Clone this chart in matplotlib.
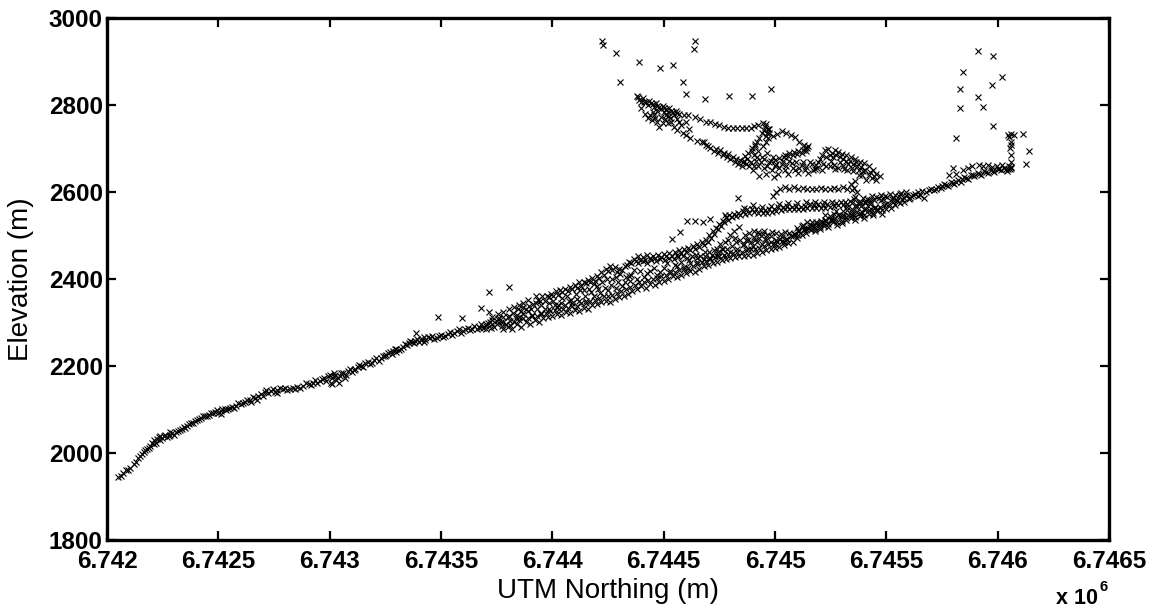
import matplotlib
matplotlib.use("Agg")
import matplotlib.pyplot as plt

plt.rcParams['font.family'] = ['Liberation Sans', 'DejaVu Sans']

NORTH_BASE = 6742000
X_TICKS = [6742000, 6742500, 6743000, 6743500, 6744000, 6744500, 6745000, 6745500, 6746000, 6746500]
X_LABELS = ['6.742', '6.7425', '6.743', '6.7435', '6.744', '6.7445', '6.745', '6.7455', '6.746', '6.7465']
Y_TICKS = [1800, 2000, 2200, 2400, 2600, 2800, 3000]

# (metres north of NORTH_BASE, elevation in metres)
outliers = [(2221,2948),(2227,2937),(2284,2920),(2389,2899),(2483,2886),(2540,2892),(2640,2948),(2634,2929),
            (2303,2854),(2586,2854),(2600,2826),(2686,2813),(2794,2820),(2896,2820),(2983,2837),
            (3912,2923),(3981,2913),(3845,2875),(4021,2864),(3974,2847),(3831,2837),(3912,2819),(3933,2795),
            (3831,2792),(3981,2751),(3812,2723),(4116,2733),(4142,2695),(4127,2665),(4074,2730),(4046,2732),(4058,2734),
            (4058,2716),(4055,2700),(4058,2685),(4060,2670),(4060,2658),(4050,2726),(4062,2708),
            (1486,2313),(1387,2276),(1423,2267),(1594,2310),(1717,2371),(1805,2381),(1717,2323),(1679,2333),
            (2835,2586),(2538,2492),(2573,2509),(2606,2534),(2640,2534),(2677,2531),(2707,2537),(2775,2547)]

main_track = [(50,1945),(62,1948),(85,1960),(105,1966),(120,1975),(140,1988),(150,1992),(165,2002),(180,2010),(195,2016),
 (210,2020),(225,2032),(240,2030),(255,2038),(270,2036),(285,2042),(300,2042),(318,2050),(335,2055),(352,2058),
 (370,2066),(388,2070),(405,2076),(422,2080),(440,2086),(458,2088),(475,2092),(492,2098),(510,2096),(528,2102),
 (545,2100),(560,2106),(580,2108),(600,2112),(620,2118),(640,2122),(655,2128),(672,2122),(690,2135),(708,2140),
 (725,2138),(745,2146),(765,2144),(790,2146),(810,2144),(835,2150),(855,2152),(880,2155),(905,2158),(925,2162),
 (945,2160),(965,2170),(985,2165),(1000,2180),(1005,2160),(1010,2172),(1018,2185),(1030,2168),(1045,2178),(1060,2185),
 (1075,2180),(1090,2194),(1108,2190),(1125,2198),(1140,2200),(1160,2206),(1180,2204),(1200,2214),(1220,2212),(1240,2224),
 (1255,2226),(1270,2232),(1285,2234),(1300,2240),(1320,2238),(1340,2250),(1355,2254),(1370,2256),(1385,2258),(1400,2256),
 (1415,2262),(1430,2260),(1450,2264),(1470,2262),(1490,2270),(1510,2266),(1530,2274),(1550,2272),(1570,2280),(1590,2276),
 (1610,2284),(1630,2282),(1650,2292),(1670,2290),(1690,2288),(1710,2298),(1730,2296),(1750,2304),(1770,2300),(1790,2296),
 (1810,2304),(1300,2232),(1020,2178),(975,2172),(1040,2162),(240,2040),(210,2030),(285,2048),(510,2090),(765,2138)]

main_fill = [(72,1955),(95,1962),(130,1980),(158,1998),(172,2008),(188,2012),(202,2024),(218,2022),(232,2036),(248,2034),
 (262,2042),(278,2040),(292,2046),(308,2048),(326,2052),(344,2060),(360,2062),(378,2068),(396,2074),(414,2078),
 (431,2084),(449,2084),(466,2092),(484,2094),(500,2092),(518,2100),(536,2098),(552,2104),(570,2104),(590,2114),
 (610,2114),(630,2122),(648,2118),(664,2126),(680,2130),(699,2132),(716,2144),(735,2142),(755,2140),(778,2150),
 (800,2150),(822,2146),(845,2148),(868,2150),(892,2160),(915,2156),(935,2168),(955,2165),(992,2176),(1012,2158),
 (1025,2180),(1037,2172),(1052,2184),(1068,2172),(1082,2188),(1099,2186),(1116,2194),(1132,2202),(1150,2198),(1170,2210),
 (1190,2208),(1210,2218),(1230,2218),(1248,2222),(1262,2230),(1278,2228),(1292,2238),(1310,2236),(1330,2244),(1348,2248),
 (1362,2258),(1378,2252),(1392,2262),(1408,2260),(1422,2256),(1440,2266),(1460,2268),(1480,2264),(1500,2272),(1520,2270),
 (1540,2278),(1560,2276),(1580,2284),(1600,2280),(1620,2288),(1640,2286),(1660,2286),(1680,2296),(1700,2292),(1720,2302),
 (1740,2290),(1760,2310),(1780,2286),(1800,2312),(1700,2284),(1725,2288),(1750,2296),(1775,2292)]

band_top = [(1675,2288),(1700,2296),(1730,2305),(1755,2308),(1780,2312),(1805,2316),(1825,2322),(1845,2330),(1870,2335),(1895,2338),
 (1915,2342),(1935,2352),(1955,2360),(1975,2362),(1995,2366),(2015,2372),(2035,2374),(2055,2378),(2080,2382),(2100,2386),
 (2120,2392),(2140,2394),(2160,2398),(2180,2402),(2200,2406),(2220,2416),(2240,2424),(2260,2430),(2280,2428),(2300,2424),
 (2325,2430),(2345,2440),(2365,2446),(2385,2452),(2405,2450),(2425,2456),(2450,2454),(2475,2456),(2500,2458),(2525,2460),
 (2550,2462),(2570,2466),(2590,2470),(2610,2472),(2630,2476),(2650,2480),(2670,2484),(2690,2490),(2705,2500),(2720,2510),
 (2735,2518),(2750,2526),(2765,2534),(2780,2542),(2795,2546),(2815,2550),(2835,2552),(2855,2556),(2875,2560),(2895,2562),
 (2915,2560),(2935,2558),(2955,2558),(2975,2562),(2995,2560),(3015,2565),(3035,2566),(3055,2568),(3075,2566),(3095,2568),
 (3115,2566),(3135,2568),(3155,2572),(3175,2570),(3195,2572),(3215,2570),(3235,2572),(3255,2576),(3275,2574),(3295,2578),
 (3315,2576),(3335,2580),(3355,2584),(3375,2578),(3395,2586),(3415,2584),(3435,2590),(3455,2588),(3475,2594),(3495,2590),
 (3515,2596),(3540,2592),(3565,2598),(3590,2594),(3610,2590)]

top_fill = [(1840,2318),(1860,2326),(1880,2332),(1905,2330),(1925,2344),(1945,2350),(1965,2350),(1985,2358),(2005,2360),(2025,2364),
 (2045,2370),(2070,2372),(2090,2378),(2110,2380),(2130,2384),(2150,2390),(2170,2392),(2190,2396),(2210,2402),(2230,2410),
 (2250,2418),(2270,2420),(2290,2416),(2315,2420),(2335,2432),(2355,2436),(2375,2442),(2395,2444),(2415,2444),(2437,2448),
 (2462,2448),(2487,2450),(2512,2452),(2537,2454),(2560,2456),(2580,2460),(2600,2462),(2620,2466),(2640,2470),(2660,2474),
 (2680,2478),(2698,2484),(2712,2494),(2728,2504),(2742,2516),(2758,2522),(2772,2530),(2788,2536),(2805,2542),(2825,2544),
 (2845,2548),(2865,2550),(2885,2552),(2905,2554),(2925,2552),(2945,2552),(2965,2552),(2985,2554),(3005,2556),(3025,2558),
 (3045,2560),(3065,2560),(3085,2560),(3105,2560),(3125,2560),(3145,2564),(3165,2564),(3185,2564),(3205,2564),(3225,2564),
 (3245,2566),(3265,2568),(3285,2570),(3305,2570),(3325,2572),(3345,2574),(3365,2570),(3385,2578),(3405,2578),(3425,2582),
 (3445,2582),(3465,2586),(3485,2584),(3505,2588),(3530,2586),(3555,2590),(3580,2586),(3605,2586),(3630,2596)]

band_low = [(1800,2290),(1820,2284),(1840,2296),(1860,2290),(1880,2300),(1900,2296),(1920,2305),(1940,2302),(1960,2310),(1980,2312),
 (2000,2316),(2020,2320),(2040,2318),(2060,2324),(2080,2322),(2100,2328),(2120,2326),(2140,2334),(2160,2332),(2180,2340),
 (2200,2342),(2220,2346),(2240,2350),(2260,2348),(2280,2354),(2300,2358),(2320,2362),(2340,2366),(2360,2372),(2380,2376),
 (2400,2384),(2420,2380),(2440,2388),(2460,2386),(2480,2392),(2500,2396),(2520,2400),(2540,2406),(2560,2404),(2580,2410),
 (2600,2414),(2620,2418),(2640,2416),(2660,2424),(2680,2430),(2700,2432),(2720,2436),(2740,2440),(2760,2444),(2780,2446),
 (2800,2448),(2820,2450),(2840,2452),(2860,2452),(2880,2456),(2900,2456),(2920,2460),(2940,2462),(2960,2466),(2980,2468),
 (3000,2472),(3020,2474),(3040,2478),(3060,2482),(3080,2486),(3100,2494),(3120,2500),(3140,2506),(3160,2512),(3180,2516),
 (3200,2520),(3220,2522),(3240,2526),(3260,2530),(3280,2530),(3300,2534),(3320,2536),(3340,2540),(3360,2542),(3380,2544),
 (3400,2546),(3420,2550),(3440,2552),(3460,2556),(3480,2558),(3500,2562),(3520,2564),(3540,2570),(3560,2574),(3580,2578),
 (3600,2584)]

low_fill = [(1830,2302),(1850,2306),(1870,2310),(1890,2310),(1910,2314),(1930,2316),(1950,2320),(1970,2322),(1990,2326),(2010,2328),
 (2030,2330),(2050,2332),(2070,2334),(2090,2338),(2110,2338),(2130,2344),(2150,2344),(2170,2350),(2190,2352),(2210,2356),
 (2230,2360),(2250,2360),(2270,2364),(2290,2368),(2310,2372),(2330,2378),(2350,2382),(2370,2386),(2390,2392),(2410,2394),
 (2430,2398),(2450,2400),(2470,2402),(2490,2406),(2510,2410),(2530,2414),(2550,2416),(2570,2420),(2590,2424),(2610,2426),
 (2630,2430),(2650,2434),(2670,2438),(2690,2442),(2710,2446),(2730,2450),(2750,2454),(2770,2456),(2790,2458),(2810,2460),
 (2830,2462),(2850,2462),(2870,2466),(2890,2468),(2910,2470),(2930,2472),(2950,2476),(2970,2480),(2990,2480),(3010,2484),
 (3030,2488),(3050,2492),(3070,2498),(3090,2504),(3110,2510),(3130,2514),(3150,2518),(3170,2522),(3190,2528),(3210,2532),
 (3230,2534),(3250,2536),(3270,2540),(3290,2544),(3310,2544),(3330,2548),(3350,2550),(3370,2554),(3390,2554),(3410,2560),
 (3430,2562),(3450,2564),(3470,2566),(3490,2570),(3510,2572),(3530,2578),(3550,2582),(3570,2584)]

band_mid_a = [(1850,2312),(1870,2320),(1890,2326),(1910,2318),(1930,2332),(1950,2340),(1965,2330),(1985,2345),(2005,2350),(2025,2340),
 (2045,2356),(2065,2362),(2085,2352),(2105,2366),(2125,2374),(2145,2362),(2165,2378),(2185,2388),(2205,2376),(2225,2392),
 (2245,2400),(2265,2386),(2285,2404),(2305,2412),(2325,2394),(2345,2408),(2365,2420),(2385,2436),(2405,2442),(2425,2436),
 (2445,2444),(2465,2442),(2485,2446),(2505,2444),(2525,2448),(2545,2446),(2565,2450),(2585,2452),(2605,2448),(2625,2454),
 (2645,2456),(2665,2452),(2685,2462),(2705,2462),(2725,2466),(2745,2462),(2765,2470),(2785,2468),(2805,2476),(2825,2484),
 (2845,2490),(2865,2500),(2885,2506),(2905,2510),(2925,2508),(2945,2504),(2965,2502),(2985,2508),(3005,2506),(3025,2504),
 (3045,2508),(3065,2506),(3085,2504),(3105,2510),(3125,2525),(3145,2530),(3165,2530),(3185,2530),(3205,2534),(3225,2536),
 (3245,2544),(3265,2550),(3285,2548),(3305,2556),(3325,2558),(3345,2562),(3365,2566),(3385,2568),(3405,2574),(3425,2572)]

band_mid_b = [(1950,2322),(1985,2330),(2020,2335),(2055,2340),(2090,2345),(2120,2350),(2150,2350),(2185,2360),(2215,2368),(2250,2375),
 (2285,2380),(2315,2385),(2350,2395),(2380,2400),(2410,2405),(2440,2418),(2470,2410),(2500,2425),(2530,2418),(2560,2430),
 (2590,2428),(2620,2436),(2650,2440),(2680,2445),(2710,2448),(2740,2452),(2770,2456),(2800,2462),(2830,2470),(2855,2478),
 (2880,2490),(2905,2496),(2930,2504),(2955,2492),(2980,2498),(3005,2490),(3030,2496),(3055,2492),(3080,2498),(3105,2500),
 (3130,2512),(3155,2520),(3180,2520),(3200,2526),(3225,2548),(3250,2538),(3275,2556),(3300,2545),(3325,2566),(3350,2554),
 (3375,2572),(3400,2560),(3425,2578),(3450,2566),(3475,2582),(3500,2572),(3525,2585),(3550,2580),(2760,2470),(2790,2490),
 (2815,2510),(2840,2520),(2860,2480),(2880,2470),(2900,2476),(2920,2484),(2940,2480),(2960,2490),(2980,2486),(3000,2480),
 (3020,2492),(3040,2486),(2870,2490),(2890,2484),(2910,2490),(2930,2494),(2950,2510)]

dense_blobs = [(1830,2335),(1850,2340),(1870,2345),(1890,2352),(1925,2360),(2010,2340),(2040,2345),(2075,2350),(2110,2355),(2140,2375),
 (2175,2370),(2200,2385),(2235,2380),(2270,2400),(2295,2392),(2330,2405),(2355,2410),(2395,2418),(2425,2414),(2455,2425),
 (2485,2416),(2515,2436),(2550,2432),(2580,2440),(2615,2444),(2650,2448),(2685,2452),(2715,2456),(2740,2470),(2755,2480),
 (2775,2484),(2800,2500),(2820,2495),(1730,2312),(1755,2320),(1780,2324),(1805,2330),(1780,2302),(1810,2295),(1835,2310),
 (3100,2518),(3120,2522),(3140,2516),(3160,2524),(3180,2510),(3200,2514),(3220,2528),(3240,2520),(3260,2536),(3280,2524),
 (3300,2528),(3320,2542),(3340,2548),(3360,2536),(3380,2552),(3400,2540),(3420,2558),(3440,2546),(3460,2562),(3480,2550),
 (2860,2564),(2900,2570),(2940,2566),(2980,2568),(3020,2572),(3060,2574),(3100,2574),(3140,2576),(3180,2578),(3220,2578)]

right_tail = [(3560,2595),(3590,2600),(3620,2594),(3640,2600),(3660,2602),(3680,2600),(3700,2606),(3715,2604),(3730,2612),(3745,2610),
 (3760,2618),(3775,2614),(3790,2622),(3805,2618),(3820,2628),(3835,2624),(3850,2634),(3865,2630),(3880,2640),(3895,2636),
 (3910,2644),(3925,2640),(3940,2648),(3955,2644),(3970,2650),(3985,2646),(4000,2654),(4015,2650),(4030,2656),(4045,2652),
 (4055,2652),(4062,2656),(3780,2640),(3800,2655),(3815,2642),(3845,2650),(3865,2655),(3885,2660),(3915,2662),(3935,2660),
 (3955,2662),(3975,2658),(3995,2660),(4020,2662),(3640,2590),(3670,2586),(3650,2594),(3690,2604),(3722,2608),(3752,2614),
 (3768,2616),(3798,2620),(3812,2624),(3842,2630),(3858,2632),(3888,2638),(3918,2642),(3948,2646),(3978,2648),(4008,2652),
 (4038,2654),(4050,2660),(4040,2648)]

upper_ridge = [(2378,2820),(2390,2812),(2405,2815),(2420,2806),(2435,2810),(2450,2802),(2465,2804),(2480,2796),(2495,2798),(2510,2790),
 (2525,2792),(2540,2784),(2555,2786),(2570,2780),(2590,2778),(2610,2776),(2640,2772),(2665,2768),(2690,2762),(2710,2760),
 (2730,2756),(2750,2754),(2770,2750),(2790,2748),(2810,2748),(2830,2747),(2850,2746),(2870,2748),(2890,2748),(2905,2752),
 (2925,2754),(2945,2758),(2960,2756),(2968,2745),(2972,2735),(2968,2725),(2960,2715),(2945,2705),(2925,2695),(2905,2685),
 (2990,2728),(3010,2734),(3030,2740),(3050,2735),(3070,2730),(3090,2726),(3110,2716),(3130,2708),(3150,2705),(3140,2695),
 (3120,2690),(3100,2688),(3080,2685),(3060,2682),(3040,2680),(3020,2678),(3000,2674),(2385,2818),(2398,2806),(2412,2808),
 (2428,2800),(2442,2804),(2458,2796),(2472,2798),(2488,2790),(2502,2792),(2518,2784),(2532,2786),(2548,2778),(2562,2782),
 (2955,2750),(2965,2735),(2958,2728),(2975,2745),(2950,2742),(2940,2735),(2930,2725),(2920,2715),(2910,2705),(2895,2695),
 (3145,2700),(3135,2702),(3125,2696),(3105,2694),(3085,2692),(3065,2690),(3045,2686)]

lower_ridge = [(2400,2792),(2415,2780),(2430,2770),(2446,2766),(2455,2778),(2470,2786),(2470,2762),(2490,2772),(2495,2758),(2510,2778),
 (2520,2758),(2530,2770),(2545,2750),(2558,2743),(2570,2760),(2585,2735),(2600,2730),(2620,2724),(2648,2718),(2670,2714),
 (2690,2708),(2710,2700),(2735,2698),(2752,2697),(2770,2690),(2790,2688),(2810,2680),(2825,2676),(2842,2674),(2855,2668),
 (2865,2682),(2870,2664),(2880,2690),(2885,2660),(2895,2700),(2900,2651),(2910,2710),(2915,2672),(2925,2660),(2930,2636),
 (2940,2680),(2950,2655),(2960,2642),(2965,2690),(2975,2668),(2985,2650),(2995,2634),(3000,2660),(3015,2642),(3030,2664),
 (3045,2650),(3060,2642),(3075,2666),(3090,2650),(3105,2644),(3120,2662),(3135,2650),(3150,2644),(3165,2664),(3180,2652),
 (3195,2670),(3210,2684),(3225,2696),(3240,2698),(3255,2690),(3270,2696),(3285,2692),(3300,2688),(3320,2686),(3340,2680),
 (3360,2676),(3380,2668),(3400,2666),(3420,2660),(3440,2650),(3455,2642),(3470,2636),(3455,2628),(3435,2632),(3410,2628),
 (3390,2640),(3370,2660),(3350,2648),(3330,2664),(3310,2652),(3290,2668),(3270,2652),(3250,2672),(3230,2660),(3210,2650),
 (3190,2655),(3360,2625),(3340,2618),(3370,2600),(3360,2588),(3355,2610),(3375,2640)]

upper_fill = [(2480,2750),(2505,2768),(2535,2760),(2560,2768),(2580,2755),(2450,2785),(2440,2776),(2460,2770),(2500,2785),(2525,2775),
 (2600,2760),(2615,2745),(2680,2715),(2700,2705),(2725,2695),(2745,2690),(2765,2684),(2785,2680),(2800,2675),(2820,2670),
 (2835,2665),(2850,2660),(2860,2672),(2875,2675),(2890,2668),(2905,2660),(2920,2680),(2935,2668),(2950,2675),(2965,2660),
 (2980,2672),(2990,2680),(3005,2665),(3020,2655),(3035,2672),(3050,2660),(3065,2672),(3080,2655),(3095,2668),(3110,2655),
 (3125,2670),(3140,2658),(3155,2670),(3170,2650),(3185,2662),(3200,2675),(3215,2665),(3230,2680),(3245,2685),(3260,2680),
 (3275,2685),(3290,2680),(3305,2675),(3320,2672),(3335,2672),(3350,2665),(3365,2668),(3385,2658),(3405,2650),(3425,2645),
 (3445,2636),(3420,2638),(3395,2648),(3375,2650),(3345,2655),(3325,2650),(3305,2660),(3285,2655),(3265,2662),(3245,2660)]

mid_row = [(2990,2590),(3005,2600),(3022,2606),(3045,2612),(3065,2608),(3085,2612),(3105,2606),(3125,2610),(3145,2606),(3165,2608),
 (3185,2606),(3205,2610),(3225,2606),(3245,2606),(3265,2610),(3285,2606),(3305,2612),(3325,2608),(3345,2604)]


def plot_tracks(ax, tracks):
    for track in tracks:
        xs = [NORTH_BASE + p[0] for p in track]
        ys = [p[1] for p in track]
        ax.plot(xs, ys, linestyle='none', marker='x', color='black', markersize=4.6, markeredgewidth=0.8, clip_on=True)


fig = plt.figure(figsize=(11.55, 6.1), dpi=100)
ax = fig.add_axes([107 / 1155, 1 - 540 / 610, (1109 - 107) / 1155, (540 - 18) / 610])
plot_tracks(ax, [outliers, main_track, main_fill, band_top, top_fill, band_low, low_fill, band_mid_a, band_mid_b,
                 dense_blobs, right_tail, upper_ridge, lower_ridge, upper_fill, mid_row])

ax.set_xlim(X_TICKS[0], X_TICKS[-1])
ax.set_ylim(Y_TICKS[0], Y_TICKS[-1])
ax.set_xticks(X_TICKS)
ax.set_xticklabels(X_LABELS, fontsize=17.5, fontweight='bold')
ax.set_yticks(Y_TICKS)
ax.set_yticklabels([str(v) for v in Y_TICKS], fontsize=17.5, fontweight='bold')
ax.tick_params(axis='both', direction='in', top=True, right=True, length=6.5, width=1.6)
ax.tick_params(axis='x', pad=7)
ax.tick_params(axis='y', pad=3)
for spine in ax.spines.values():
    spine.set_linewidth(2.4)

fig.text(608 / 1155, 1 - 591 / 610, 'UTM Northing (m)', fontsize=20, ha='center', va='center')
fig.text(21 / 1155, 1 - 279 / 610, 'Elevation (m)', fontsize=20, ha='center', va='center', rotation=90)
fig.text(1056 / 1155, 1 - 598 / 610, 'x 10', fontsize=15.5, fontweight='bold', ha='left', va='center')
fig.text(1100 / 1155, 1 - 587 / 610, '6', fontsize=10.5, fontweight='bold', ha='left', va='center')

fig.savefig('out.png', dpi=100)
